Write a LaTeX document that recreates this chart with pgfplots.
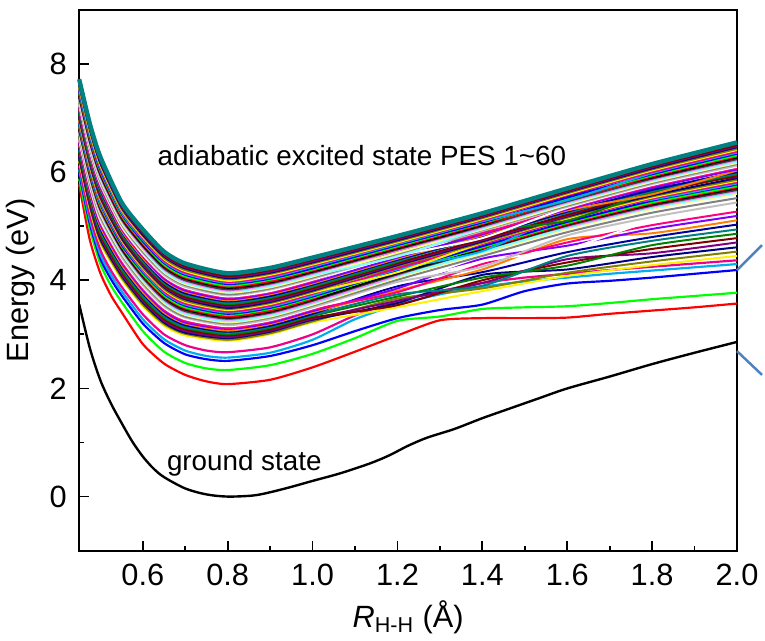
\documentclass[border=0pt]{standalone}
\usepackage{pgfplots}
\pgfplotsset{compat=1.18}
\usepackage{pgfplotstable}
\usepackage{fontspec}
\setmainfont{Liberation Sans}

\definecolor{oDYellow}{RGB}{128,128,0}
\definecolor{oNavy}{RGB}{0,0,128}
\definecolor{oPurple}{RGB}{128,0,128}
\definecolor{oWine}{RGB}{128,0,0}
\definecolor{oOlive}{RGB}{0,128,0}
\definecolor{oDCyan}{RGB}{0,128,128}
\definecolor{oRoyal}{RGB}{0,0,160}
\definecolor{oOrange}{RGB}{255,128,0}
\definecolor{oViolet}{RGB}{128,0,255}
\definecolor{oPink}{RGB}{255,0,128}
\definecolor{oWhite}{RGB}{255,255,255}
\definecolor{oLTGray}{RGB}{192,192,192}
\definecolor{oGray}{RGB}{128,128,128}
\definecolor{oLTYellow}{RGB}{255,255,128}
\definecolor{oLTCyan}{RGB}{128,255,255}
\definecolor{oLTMagenta}{RGB}{255,128,255}
\definecolor{oDGray}{RGB}{64,64,64}
\definecolor{calloutblue}{RGB}{79,129,189}

\pgfplotscreateplotcyclelist{origin}{%
color=black\\color=red\\color=green\\color=blue\\color=cyan\\color=magenta\\color=yellow\\color=oDYellow\\color=oNavy\\color=oPurple\\color=oWine\\color=oOlive\\color=oDCyan\\color=oRoyal\\color=oOrange\\color=oViolet\\color=oPink\\color=oWhite\\color=oLTGray\\color=oGray\\color=oLTYellow\\color=oLTCyan\\color=oLTMagenta\\color=oDGray\\%
}

% excited states 6..60
\pgfplotstableread{
x e6 e7 e8 e9 e10 e11 e12 e13 e14 e15 e16 e17 e18 e19 e20 e21 e22 e23 e24 e25 e26 e27 e28 e29 e30 e31 e32 e33 e34 e35 e36 e37 e38 e39 e40 e41 e42 e43 e44 e45 e46 e47 e48 e49 e50 e51 e52 e53 e54 e55 e56 e57 e58 e59 e60
0.45 6.20 6.24 6.27 6.31 6.34 6.38 6.41 6.45 6.49 6.52 6.56 6.59 6.63 6.66 6.70 6.73 6.75 6.78 6.80 6.83 6.85 6.88 6.90 6.93 6.96 6.98 7.01 7.03 7.06 7.08 7.11 7.13 7.16 7.18 7.21 7.24 7.26 7.29 7.31 7.34 7.36 7.39 7.41 7.44 7.47 7.49 7.52 7.54 7.57 7.59 7.62 7.64 7.67 7.69 7.72
0.475 5.32 5.36 5.40 5.43 5.47 5.51 5.55 5.59 5.62 5.66 5.70 5.74 5.77 5.81 5.85 5.88 5.90 5.93 5.96 5.98 6.01 6.03 6.06 6.09 6.11 6.14 6.17 6.19 6.22 6.24 6.27 6.30 6.32 6.35 6.38 6.40 6.43 6.45 6.48 6.51 6.53 6.56 6.59 6.61 6.64 6.66 6.69 6.72 6.74 6.77 6.80 6.82 6.85 6.87 6.90
0.5 4.68 4.72 4.76 4.80 4.83 4.87 4.91 4.95 4.99 5.03 5.07 5.10 5.14 5.18 5.22 5.25 5.27 5.30 5.33 5.35 5.38 5.41 5.43 5.46 5.49 5.51 5.54 5.56 5.59 5.62 5.64 5.67 5.70 5.72 5.75 5.78 5.80 5.83 5.86 5.88 5.91 5.94 5.96 5.99 6.02 6.04 6.07 6.09 6.12 6.15 6.17 6.20 6.23 6.25 6.28
0.55 4.02 4.05 4.09 4.12 4.16 4.19 4.23 4.26 4.29 4.33 4.36 4.40 4.43 4.47 4.50 4.52 4.55 4.57 4.59 4.62 4.64 4.66 4.69 4.71 4.74 4.76 4.78 4.81 4.83 4.85 4.88 4.90 4.92 4.95 4.97 4.99 5.02 5.04 5.06 5.09 5.11 5.13 5.16 5.18 5.21 5.23 5.25 5.28 5.30 5.32 5.35 5.37 5.39 5.42 5.44
0.6 3.52 3.55 3.59 3.62 3.65 3.68 3.72 3.75 3.78 3.82 3.85 3.88 3.91 3.95 3.98 4.00 4.03 4.05 4.08 4.10 4.12 4.15 4.17 4.20 4.22 4.24 4.27 4.29 4.32 4.34 4.36 4.39 4.41 4.44 4.46 4.48 4.51 4.53 4.56 4.58 4.60 4.63 4.65 4.68 4.70 4.72 4.75 4.77 4.80 4.82 4.84 4.87 4.89 4.92 4.94
0.65 3.16 3.19 3.22 3.25 3.28 3.31 3.34 3.37 3.40 3.43 3.46 3.49 3.52 3.55 3.58 3.60 3.63 3.65 3.68 3.70 3.72 3.75 3.77 3.79 3.82 3.84 3.87 3.89 3.91 3.94 3.96 3.98 4.01 4.03 4.06 4.08 4.10 4.13 4.15 4.17 4.20 4.22 4.25 4.27 4.29 4.32 4.34 4.36 4.39 4.41 4.44 4.46 4.48 4.51 4.53
0.7 2.98 3.01 3.03 3.06 3.09 3.12 3.14 3.17 3.20 3.22 3.25 3.28 3.31 3.33 3.36 3.38 3.41 3.43 3.46 3.48 3.50 3.53 3.55 3.57 3.60 3.62 3.65 3.67 3.69 3.72 3.74 3.76 3.79 3.81 3.84 3.86 3.88 3.91 3.93 3.95 3.98 4.00 4.03 4.05 4.07 4.10 4.12 4.14 4.17 4.19 4.22 4.24 4.26 4.29 4.31
0.8 2.88 2.90 2.93 2.95 2.98 3.00 3.03 3.05 3.07 3.10 3.12 3.15 3.17 3.20 3.22 3.24 3.27 3.29 3.31 3.33 3.36 3.38 3.40 3.42 3.45 3.47 3.49 3.52 3.54 3.56 3.58 3.61 3.63 3.65 3.68 3.70 3.72 3.74 3.77 3.79 3.81 3.83 3.86 3.88 3.90 3.93 3.95 3.97 3.99 4.02 4.04 4.06 4.08 4.11 4.13
0.9 3.00 3.02 3.05 3.07 3.09 3.12 3.14 3.16 3.19 3.21 3.24 3.26 3.28 3.31 3.33 3.35 3.38 3.40 3.42 3.44 3.47 3.49 3.51 3.53 3.56 3.58 3.60 3.62 3.65 3.67 3.69 3.71 3.74 3.76 3.78 3.80 3.83 3.85 3.87 3.89 3.92 3.94 3.96 3.98 4.01 4.03 4.05 4.07 4.10 4.12 4.14 4.16 4.19 4.21 4.23
1.0 3.22 3.24 3.27 3.29 3.31 3.34 3.36 3.38 3.41 3.43 3.46 3.48 3.50 3.53 3.55 3.57 3.59 3.62 3.64 3.66 3.68 3.70 3.72 3.75 3.77 3.79 3.81 3.83 3.85 3.88 3.90 3.92 3.94 3.96 3.99 4.01 4.03 4.05 4.07 4.09 4.12 4.14 4.16 4.18 4.20 4.22 4.25 4.27 4.29 4.31 4.33 4.35 4.38 4.40 4.42
1.2 3.50 3.66 3.58 3.62 3.54 3.70 3.74 3.89 3.81 3.85 3.78 3.93 3.97 4.01 4.05 4.07 4.09 4.11 4.13 4.24 4.17 4.18 4.20 4.22 4.15 4.26 4.28 4.30 4.32 4.34 4.36 4.38 4.40 4.42 4.53 4.45 4.47 4.49 4.51 4.44 4.55 4.57 4.59 4.61 4.63 4.65 4.67 4.69 4.70 4.72 4.74 4.76 4.78 4.80 4.82
1.4 3.80 3.85 4.10 3.95 4.00 4.05 3.90 4.15 4.20 4.40 4.30 4.35 4.25 4.45 4.50 4.52 4.65 4.56 4.57 4.59 4.61 4.63 4.54 4.67 4.69 4.70 4.72 4.74 4.76 4.89 4.80 4.81 4.83 4.85 4.87 4.78 4.91 4.93 4.94 4.96 4.98 5.00 5.02 5.04 5.06 5.07 5.09 5.11 5.13 5.15 5.17 5.18 5.20 5.22 5.24
1.6 4.08 4.14 4.20 4.39 4.33 4.27 4.45 4.52 4.76 4.64 4.70 4.58 4.83 4.89 4.95 4.97 4.99 5.01 5.03 5.04 5.06 5.08 5.23 5.12 5.14 5.16 5.18 5.19 5.21 5.10 5.25 5.27 5.29 5.31 5.33 5.34 5.36 5.38 5.40 5.42 5.44 5.46 5.55 5.49 5.51 5.53 5.48 5.57 5.59 5.61 5.63 5.64 5.66 5.68 5.70
1.8 4.28 4.35 4.43 4.50 4.58 4.65 4.73 4.80 4.87 4.95 5.02 5.10 5.17 5.25 5.32 5.34 5.36 5.38 5.40 5.42 5.44 5.47 5.49 5.51 5.53 5.55 5.57 5.69 5.61 5.63 5.65 5.67 5.59 5.71 5.74 5.76 5.78 5.80 5.82 5.84 5.86 5.88 5.90 5.92 5.94 5.96 5.98 6.00 6.03 6.05 6.07 6.09 6.11 6.13 6.15
2.0 4.45 4.53 4.61 4.70 4.78 4.86 4.94 5.03 5.11 5.19 5.27 5.35 5.44 5.52 5.60 5.62 5.65 5.67 5.70 5.72 5.74 5.77 5.79 5.81 5.84 5.86 5.89 5.91 5.93 5.96 5.98 6.00 6.03 6.05 6.08 6.10 6.12 6.15 6.17 6.19 6.22 6.24 6.27 6.29 6.31 6.34 6.36 6.38 6.41 6.43 6.46 6.48 6.50 6.53 6.55
}\exc

\begin{document}
\begin{tikzpicture}
\begin{axis}[
  scale only axis, width=331.5pt, height=272.5pt,
  xmin=0.45, xmax=2.0, ymin=-1, ymax=9,
  xtick={0.6,0.8,1.0,1.2,1.4,1.6,1.8,2.0},
  ytick={0,2,4,6,8},
  minor x tick num=1, minor y tick num=1,
  tick pos=left, tick align=inside,
  major tick length=5pt, minor tick length=2.5pt,
  line width=1pt,
  every tick/.style={black, line width=0.9pt},
  /pgf/number format/assume math mode=true,
  xticklabel style={/pgf/number format/.cd, fixed, fixed zerofill, precision=1, /tikz/.cd, yshift=-3pt},
  yticklabel style={xshift=-2.5pt},
  tick label style={font=\fontsize{15.5}{18}\selectfont},
  label style={font=\fontsize{15.5}{18}\selectfont},
  xlabel={\textit{R}\textsubscript{H-H} (Å)},
  ylabel={Energy (eV)},
  cycle list name=origin,
  no markers,
  clip=false,
]
% ground state
\addplot+[smooth, tension=0.5, line width=1.2pt] coordinates {
(0.45,3.56) (0.475,2.75) (0.5,2.15) (0.525,1.72) (0.55,1.36) (0.575,1.02) (0.6,0.74) (0.625,0.52) (0.65,0.36) (0.7,0.15) (0.75,0.04) (0.8,0.0) (0.86,0.02) (0.9,0.08) (0.95,0.18) (1.0,0.29) (1.065,0.43) (1.134,0.61) (1.18,0.76) (1.225,0.94) (1.27,1.09) (1.334,1.25) (1.4,1.45) (1.465,1.63) (1.534,1.82) (1.6,2.0) (1.7,2.22) (1.8,2.45) (1.9,2.66) (2.0,2.86)};
% excited 1
\addplot+[smooth, tension=0.4, line width=1.1pt] coordinates {
(0.45,5.77) (0.475,4.75) (0.5,4.13) (0.525,3.72) (0.55,3.41) (0.6,2.82) (0.65,2.46) (0.7,2.25) (0.75,2.13) (0.8,2.08) (0.9,2.16) (1.0,2.39) (1.1,2.68) (1.2,2.98) (1.3,3.26) (1.4,3.30) (1.5,3.30) (1.6,3.31) (1.7,3.38) (1.8,3.44) (1.9,3.50) (2.0,3.57)};
% excited 2
\addplot+[smooth, tension=0.4, line width=1.1pt] coordinates {
(0.45,5.88) (0.475,4.95) (0.5,4.30) (0.525,3.90) (0.55,3.60) (0.6,3.06) (0.65,2.68) (0.7,2.47) (0.75,2.37) (0.8,2.34) (0.9,2.43) (1.0,2.64) (1.1,2.93) (1.2,3.25) (1.3,3.33) (1.4,3.47) (1.5,3.50) (1.6,3.52) (1.7,3.58) (1.8,3.65) (1.9,3.71) (2.0,3.77)};
% excited 3
\addplot+[smooth, tension=0.4, line width=1.1pt] coordinates {
(0.45,5.98) (0.475,5.05) (0.5,4.40) (0.525,4.02) (0.55,3.72) (0.6,3.20) (0.65,2.84) (0.7,2.63) (0.75,2.54) (0.8,2.51) (0.9,2.60) (1.0,2.80) (1.1,3.06) (1.2,3.30) (1.3,3.45) (1.4,3.55) (1.5,3.80) (1.6,3.94) (1.7,3.99) (1.8,4.05) (1.9,4.12) (2.0,4.19)};
% excited 4
\addplot+[smooth, tension=0.4, line width=1.1pt] coordinates {
(0.45,6.05) (0.475,5.12) (0.5,4.48) (0.525,4.10) (0.55,3.80) (0.6,3.28) (0.65,2.91) (0.7,2.70) (0.75,2.60) (0.8,2.57) (0.9,2.66) (1.0,2.90) (1.1,3.28) (1.2,3.55) (1.3,3.74) (1.4,3.88) (1.5,3.98) (1.6,4.05) (1.7,4.12) (1.8,4.18) (1.9,4.24) (2.0,4.30)};
% excited 5
\addplot+[smooth, tension=0.4, line width=1.1pt] coordinates {
(0.45,6.12) (0.475,5.20) (0.5,4.56) (0.525,4.18) (0.55,3.88) (0.6,3.37) (0.65,3.00) (0.7,2.80) (0.75,2.70) (0.8,2.67) (0.9,2.76) (1.0,3.00) (1.1,3.35) (1.2,3.62) (1.3,3.80) (1.4,3.95) (1.5,4.05) (1.6,4.12) (1.7,4.19) (1.8,4.25) (1.9,4.31) (2.0,4.37)};
% excited 6..60
\pgfplotsinvokeforeach{6,...,60}{
  \addplot+[smooth, tension=0.4, line width=1pt] table[x index=0, y=e#1] {\exc};
}
\addplot[oDCyan, smooth, tension=0.4, line width=2.2pt] table[x index=0, y=e60] {\exc};

\node[font=\fontsize{14}{16}\selectfont] at (axis cs:1.116,6.31) {adiabatic excited state PES 1\textasciitilde 60};
\node[font=\fontsize{14}{16}\selectfont] at (axis cs:0.839,0.62) {ground state};
\draw[calloutblue, line width=1.25pt] (axis cs:2.0,4.19) -- (axis cs:2.059,4.65);
\draw[calloutblue, line width=1.25pt] (axis cs:2.0,2.69) -- (axis cs:2.059,2.25);
\path (rel axis cs:0,1) ++(0pt,5pt);
\end{axis}
\end{tikzpicture}
\end{document}
